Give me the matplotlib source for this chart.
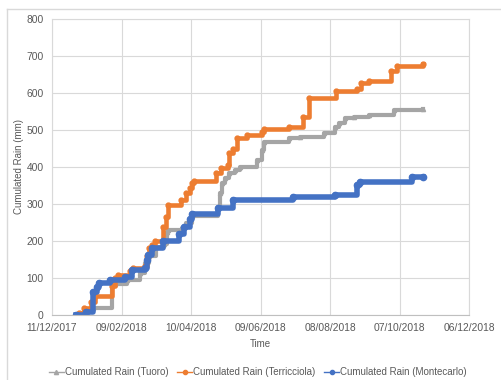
import numpy as np
import pandas as pd
import matplotlib
matplotlib.use("Agg")
import matplotlib.pyplot as plt
import matplotlib.dates as mdates
from matplotlib.lines import Line2D

plt.rcParams['font.family'] = ['Liberation Sans', 'DejaVu Sans']

# Step changes (date of change, cumulated rain after change, mm)
tuoro_dates = ["2018-01-01", "2018-01-04", "2018-01-08", "2018-01-15", "2018-02-01", "2018-02-03",
               "2018-02-14", "2018-02-25", "2018-03-01", "2018-03-05", "2018-03-11", "2018-03-18",
               "2018-03-20", "2018-03-21", "2018-04-02", "2018-04-06", "2018-04-11", "2018-05-03",
               "2018-05-05", "2018-05-07", "2018-05-09", "2018-05-13", "2018-05-18", "2018-05-22",
               "2018-06-06", "2018-06-10", "2018-06-12", "2018-07-04", "2018-07-13", "2018-08-03",
               "2018-08-12", "2018-08-16", "2018-08-21", "2018-08-29", "2018-09-11", "2018-10-02",
               "2018-10-27"]
tuoro_vals = [0, 5, 16, 19, 80, 85, 95, 113, 140, 160, 183, 192, 225, 230, 236, 248, 268, 292,
              330, 357, 370, 384, 392, 400, 419, 446, 468, 478, 482, 492, 508, 519, 532, 536,
              540, 554, 557]

terr_dates = ["2018-01-01", "2018-01-03", "2018-01-08", "2018-01-14", "2018-01-17", "2018-02-01",
              "2018-02-03", "2018-02-06", "2018-02-16", "2018-02-19", "2018-03-01", "2018-03-03",
              "2018-03-05", "2018-03-07", "2018-03-10", "2018-03-17", "2018-03-19", "2018-03-21",
              "2018-04-01", "2018-04-06", "2018-04-09", "2018-04-11", "2018-04-13", "2018-05-02",
              "2018-05-06", "2018-05-12", "2018-05-13", "2018-05-16", "2018-05-20", "2018-05-28",
              "2018-06-10", "2018-06-12", "2018-07-04", "2018-07-16", "2018-07-21", "2018-08-13",
              "2018-08-31", "2018-09-04", "2018-09-11", "2018-09-30", "2018-10-05", "2018-10-27"]
terr_vals = [0, 5, 20, 36, 52, 78, 100, 108, 118, 128, 132, 160, 180, 190, 200, 238, 265, 297,
             312, 330, 342, 358, 362, 385, 398, 405, 438, 450, 478, 487, 495, 503, 508, 536,
             587, 606, 612, 626, 632, 660, 674, 678]

monte_dates = ["2018-01-01", "2018-01-09", "2018-01-15", "2018-01-19", "2018-01-21", "2018-01-30",
               "2018-02-12", "2018-02-18", "2018-03-01", "2018-03-03", "2018-03-04", "2018-03-07",
               "2018-03-17", "2018-03-31", "2018-04-04", "2018-04-09", "2018-04-11", "2018-05-03",
               "2018-05-16", "2018-07-07", "2018-08-12", "2018-08-31", "2018-09-03", "2018-10-18",
               "2018-10-27"]
monte_vals = [0, 9, 62, 76, 86, 95, 102, 122, 126, 148, 162, 180, 200, 220, 238, 259, 273, 290,
              312, 318, 324, 352, 360, 372, 372]

tick_dates = ["2017-12-11", "2018-02-09", "2018-04-10", "2018-06-09", "2018-08-08",
              "2018-10-07", "2018-12-06"]

fig = plt.figure(figsize=(5.01, 3.80), dpi=100)
ax = fig.add_axes([52 / 501, 1 - 315 / 380, 417 / 501, 296 / 380])

# outer chart border (Excel chart area)
fig.add_artist(Line2D([7 / 501, 7 / 501], [0, 1 - 9 / 380], transform=fig.transFigure,
                      color='#d9d9d9', lw=1))
fig.add_artist(Line2D([7 / 501, 1], [1 - 9 / 380, 1 - 9 / 380], transform=fig.transFigure,
                      color='#d9d9d9', lw=1))

ax.plot(pd.to_datetime(tuoro_dates), tuoro_vals, drawstyle='steps-post', color='#a5a5a5',
        lw=3.0, marker='^', ms=3, label='Cumulated Rain (Tuoro)')
ax.plot(pd.to_datetime(terr_dates), terr_vals, drawstyle='steps-post', color='#ed7d31',
        lw=3.3, marker='o', ms=3.5, label='Cumulated Rain (Terricciola)')
ax.plot(pd.to_datetime(monte_dates), monte_vals, drawstyle='steps-post', color='#4472c4',
        lw=4.0, marker='o', ms=4.5, label='Cumulated Rain (Montecarlo)')

ticks = pd.to_datetime(tick_dates)
ax.set_xlim(ticks[0], ticks[-1])
ax.set_xticks(ticks)
ax.xaxis.set_major_formatter(mdates.DateFormatter('%d/%m/%Y'))
ax.set_ylim(0, 800)
ax.set_yticks(np.arange(0, 801, 100))

ax.grid(True, color='#d9d9d9', lw=0.8)
ax.set_axisbelow(True)
for s in ['top', 'right', 'left']:
    ax.spines[s].set_color('#d9d9d9')
    ax.spines[s].set_linewidth(0.8)
ax.spines['bottom'].set_color('#bfbfbf')
ax.tick_params(length=0, labelsize=7.4, labelcolor='#595959', pad=6)

ax.set_xlabel('Time', fontsize=7, color='#595959', labelpad=4)
ax.set_ylabel('Cumulated Rain (mm)', fontsize=7, color='#595959', labelpad=2)

leg = fig.legend(loc='center', bbox_to_anchor=(258 / 501, 1 - 372 / 380), ncol=3, frameon=False,
                 fontsize=7, handlelength=1.5, handletextpad=0.15, columnspacing=0.9,
                 labelcolor='#595959')
for h in leg.legend_handles:
    h.set_linewidth(1)
    h.set_markersize(3)

fig.savefig('out.png', dpi=100)
